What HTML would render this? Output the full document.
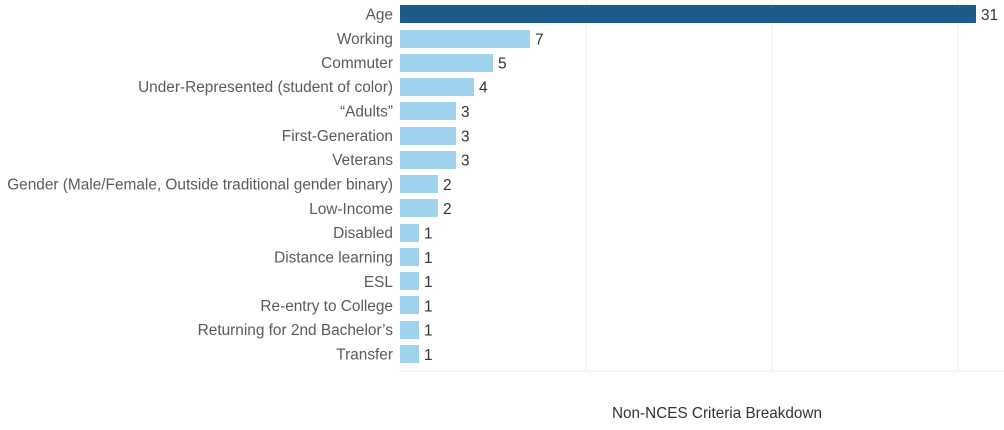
<!DOCTYPE html>
<html><head><style>
body{margin:0;background:#fff;width:1004px;height:425px;overflow:hidden;font-family:"Liberation Sans",sans-serif;}
</style></head><body>
<svg width="1004" height="425" xmlns="http://www.w3.org/2000/svg">
<g stroke="#ececec" stroke-width="1">
<line x1="586" y1="0" x2="586" y2="371"/>
<line x1="772" y1="0" x2="772" y2="371"/>
<line x1="958" y1="0" x2="958" y2="371"/>
<line x1="400" y1="371" x2="1004" y2="371"/>
</g>
<g font-size="15.4" fill="#5a5a5a" text-anchor="end" font-family="Liberation Sans, sans-serif">
<text x="393" y="19.5">Age</text>
<text x="393" y="44">Working</text>
<text x="393" y="68">Commuter</text>
<text x="393" y="92">Under-Represented (student of color)</text>
<text x="393" y="116.5">“Adults”</text>
<text x="393" y="141">First-Generation</text>
<text x="393" y="165">Veterans</text>
<text x="393" y="189.5">Gender (Male/Female, Outside traditional gender binary)</text>
<text x="393" y="214">Low-Income</text>
<text x="393" y="238">Disabled</text>
<text x="393" y="262.5">Distance learning</text>
<text x="393" y="287">ESL</text>
<text x="393" y="311">Re-entry to College</text>
<text x="393" y="335">Returning for 2nd Bachelor’s</text>
<text x="393" y="359.5">Transfer</text>
</g>
<rect x="400" y="5" width="576" height="18" fill="#1d5b8a"/>
<g fill="#a0d4ee">
<rect x="400" y="30" width="130" height="18"/>
<rect x="400" y="54" width="93" height="18"/>
<rect x="400" y="78" width="74" height="18"/>
<rect x="400" y="102" width="56" height="18"/>
<rect x="400" y="127" width="56" height="18"/>
<rect x="400" y="151" width="56" height="18"/>
<rect x="400" y="175" width="38" height="18"/>
<rect x="400" y="199" width="38" height="18"/>
<rect x="400" y="224" width="19" height="18"/>
<rect x="400" y="248" width="19" height="18"/>
<rect x="400" y="272" width="19" height="18"/>
<rect x="400" y="296" width="19" height="18"/>
<rect x="400" y="321" width="19" height="18"/>
<rect x="400" y="345" width="19" height="18"/>
</g>
<g font-size="15.4" fill="#333" font-family="Liberation Sans, sans-serif">
<text x="981" y="20">31</text>
<text x="535" y="44.5">7</text>
<text x="498" y="68.5">5</text>
<text x="479" y="92.5">4</text>
<text x="461" y="117">3</text>
<text x="461" y="141.5">3</text>
<text x="461" y="165.5">3</text>
<text x="443" y="190">2</text>
<text x="443" y="214">2</text>
<text x="424" y="238.5">1</text>
<text x="424" y="263">1</text>
<text x="424" y="287">1</text>
<text x="424" y="311.5">1</text>
<text x="424" y="335.5">1</text>
<text x="424" y="360">1</text>
</g>
<text x="717" y="418" font-size="15.3" fill="#333" text-anchor="middle" font-family="Liberation Sans, sans-serif">Non-NCES Criteria Breakdown</text>
</svg>
</body></html>
